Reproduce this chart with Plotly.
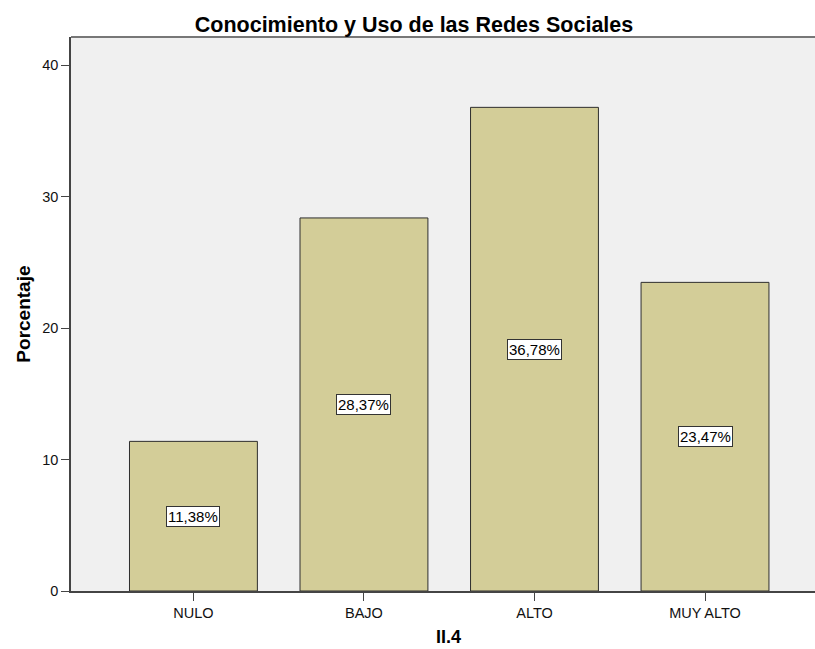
import plotly.graph_objects as go

# Niveles de conocimiento y uso de redes sociales (II.4)
categorias = ["NULO", "BAJO", "ALTO", "MUY ALTO"]
porcentajes = [11.38, 28.37, 36.78, 23.47]
etiquetas = ["11,38%", "28,37%", "36,78%", "23,47%"]
y_ticks = [0, 10, 20, 30, 40]

FONT = "Liberation Sans, Arial, sans-serif"

fig = go.Figure()
fig.add_trace(go.Bar(
    x=categorias,
    y=porcentajes,
    width=0.75,
    marker=dict(color="#d3cd98", line=dict(color="#2e2e2e", width=1)),
    hoverinfo="x+y",
))

# Etiquetas de valor en recuadro blanco a media altura de cada barra
for cat, val, txt in zip(categorias, porcentajes, etiquetas):
    fig.add_annotation(
        x=cat, y=val / 2, text=txt, showarrow=False,
        font=dict(family=FONT, size=15, color="#000"),
        bgcolor="#ffffff", bordercolor="#333333", borderwidth=1, borderpad=1,
    )

# Títulos de los ejes
fig.add_annotation(
    text="<b>Porcentaje</b>", xref="paper", yref="paper",
    x=-0.065, y=0.50, xanchor="center", yanchor="middle",
    textangle=-90, showarrow=False,
    font=dict(family=FONT, size=19, color="#000"),
)
fig.add_annotation(
    text="<b>II.4</b>", xref="paper", yref="paper",
    x=0.508, y=-0.083, xanchor="center", yanchor="middle",
    showarrow=False,
    font=dict(family=FONT, size=18, color="#000"),
)

# Borde superior del área de trazado
fig.add_shape(
    type="line", xref="paper", yref="paper",
    x0=0, x1=1, y0=1, y1=1,
    line=dict(color="#777777", width=2),
)

fig.update_layout(
    width=815, height=649,
    margin=dict(l=71, r=0, t=37, b=58),
    paper_bgcolor="#ffffff",
    plot_bgcolor="#f0f0f0",
    showlegend=False,
    title=dict(
        text="<b>Conocimiento y Uso de las Redes Sociales</b>",
        x=0.508, xanchor="center", y=0.962, yanchor="middle",
        font=dict(family=FONT, size=21.5, color="#000"),
    ),
    xaxis=dict(
        range=[-0.718, 3.645],
        showline=True, linecolor="#444444", linewidth=1.5,
        ticks="outside", ticklen=8, tickcolor="#444444",
        tickfont=dict(family=FONT, size=14.5, color="#111"),
        showgrid=False, zeroline=False,
    ),
    yaxis=dict(
        range=[0, 42.13],
        tickvals=y_ticks,
        showline=True, linecolor="#444444", linewidth=1.5,
        ticks="outside", ticklen=8, tickcolor="#444444",
        tickfont=dict(family=FONT, size=14.5, color="#111"),
        showgrid=False, zeroline=False,
    ),
)

fig.write_html("out.html")
